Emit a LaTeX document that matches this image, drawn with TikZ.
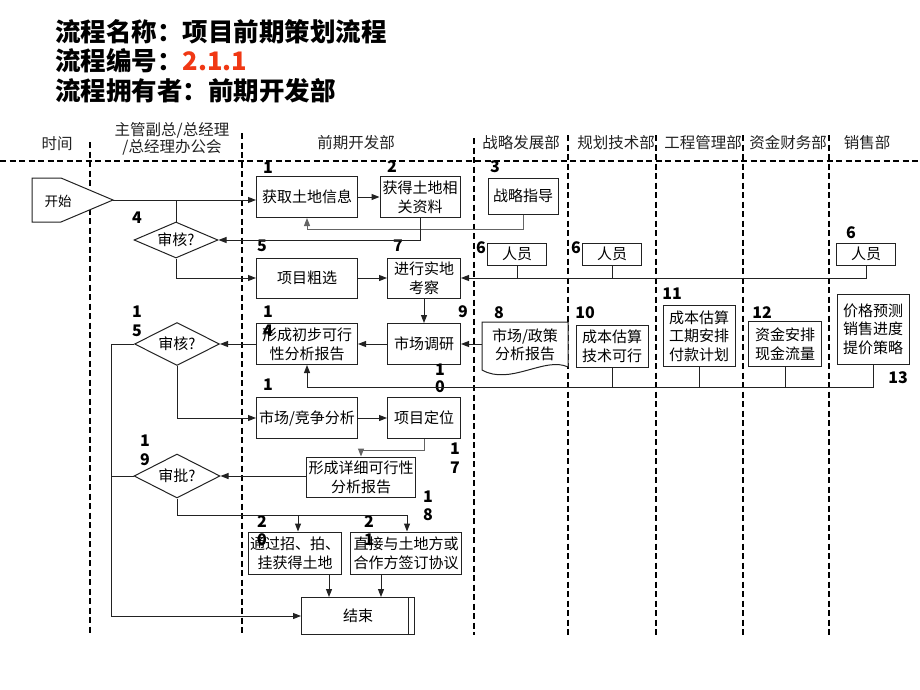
\documentclass[tikz,border=0pt]{standalone}
\usepackage{fontspec}
\setmainfont{Noto Sans CJK SC}
\usetikzlibrary{shapes.geometric,arrows.meta}
\definecolor{numred}{RGB}{240,56,20}
\definecolor{ink}{RGB}{34,34,34}

\begin{document}
\begin{tikzpicture}[x=1pt,y=-1pt,
    box/.style={draw=ink, line width=1pt, fill=white, align=center, inner sep=1pt,
      font=\fontsize{15pt}{19pt}\selectfont},
    choice/.style={diamond, draw=ink, line width=1pt, fill=white, aspect=2, inner sep=0pt,
      font=\fontsize{15pt}{19pt}\selectfont},
    num/.style={font=\bfseries\fontsize{16pt}{16pt}\selectfont, inner sep=0pt},
    lane/.style={black, line width=1.1pt, dash pattern=on 6pt off 3.5pt},
    head/.style={text=ink, align=center, font=\fontsize{15.5pt}{17pt}\selectfont},
    link/.style={draw=ink, line width=1pt},
    arr/.style={link, -{Triangle[length=8pt,width=6pt]}}]
  \useasboundingbox (0,0) rectangle (920,690);

  % Title
  \node[anchor=west, inner sep=0pt, font=\bfseries\fontsize{25.5pt}{26pt}\selectfont] (title1) at (55,32) {流程名称：项目前期策划流程};
  \node[anchor=west, inner sep=0pt, font=\bfseries\fontsize{25.5pt}{26pt}\selectfont] (title2) at (55,61) {流程编号：\textcolor{numred}{2.1.1}};
  \node[anchor=west, inner sep=0pt, font=\bfseries\fontsize{25.5pt}{26pt}\selectfont] (title3) at (55,91) {流程拥有者：前期开发部};

  % Lanes
  \draw[lane] (0,161) -- (920,161);
  \foreach \x/\y in {90/142, 242/133, 474/138, 568/135, 656/135, 743/135, 829/135}
    \draw[lane] (\x,\y) -- (\x,635);
  \node[head] (h0) at (57,144) {时间};
  \node[head] (h1) at (172,139) {主管副总/总经理\\/总经理办公会};
  \node[head] (h2) at (356,143) {前期开发部};
  \node[head] (h3) at (521,143) {战略发展部};
  \node[head] (h4) at (616,143) {规划技术部};
  \node[head] (h5) at (703,143) {工程管理部};
  \node[head] (h6) at (788,143) {资金财务部};
  \node[head] (h7) at (867,143) {销售部};

  % Start
  \draw[link, fill=white] (32,178) -- (61,178) -- (113,200) -- (61,222) -- (32,222) -- cycle;
  \node[font=\fontsize{13.5pt}{16pt}\selectfont] (start) at (58,201) {开始};
  \coordinate (starttip) at (113,200);

  % Steps
  \node[box, minimum width=101pt, minimum height=41pt] (b1) at (307,197) {获取土地信息};
  \node[box, minimum width=80pt, minimum height=41pt] (b2) at (420,197) {获得土地相\\关资料};
  \node[box, minimum width=70pt, minimum height=36pt] (b3) at (523,196) {战略指导};
  \node[choice, minimum width=84pt, minimum height=36pt] (d4) at (176,240) {审核?};
  \node[box, minimum width=101pt, minimum height=40pt] (b5) at (307,278) {项目粗选};
  \node[box, minimum width=59pt, minimum height=22pt] (p6a) at (517,254) {人员};
  \node[box, minimum width=59pt, minimum height=22pt] (p6b) at (612,254) {人员};
  \node[box, minimum width=59pt, minimum height=22pt] (p6c) at (866,254) {人员};
  \node[box, minimum width=73pt, minimum height=40pt] (b7) at (424,278) {进行实地\\考察};
  \draw[link, fill=white] (482,322) -- (568,322) -- (568,367) .. controls (545,356) and (510,386) .. (482,370) -- cycle;
  \node[align=center, minimum width=86pt, minimum height=45pt, font=\fontsize{15pt}{18pt}\selectfont] (b8) at (525,345) {市场/政策\\分析报告};
  \node[box, minimum width=73pt, minimum height=41pt] (b9) at (424,344) {市场调研};
  \node[box, minimum width=72pt, minimum height=42pt] (b10) at (612,346) {成本估算\\技术可行};
  \node[box, minimum width=72pt, minimum height=61pt, font=\fontsize{15pt}{18.5pt}\selectfont] (b11) at (699,336) {成本估算\\工期安排\\付款计划};
  \node[box, minimum width=73pt, minimum height=45pt] (b12) at (785,344) {资金安排\\现金流量};
  \node[box, minimum width=72pt, minimum height=70pt, font=\fontsize{15pt}{18.5pt}\selectfont] (b13) at (873,329) {价格预测\\销售进度\\提价策略};
  \node[box, minimum width=101pt, minimum height=41pt, fill=none] (b14) at (307,344) {形成初步可行\\性分析报告};
  \node[choice, minimum width=85pt, minimum height=43pt] (d15) at (177,344) {审核?};
  \node[box, minimum width=101pt, minimum height=41pt] (b16) at (307,418) {市场/竞争分析};
  \node[box, minimum width=73pt, minimum height=41pt] (b17) at (424,418) {项目定位};
  \node[box, minimum width=109pt, minimum height=40pt] (b18) at (361,477) {形成详细可行性\\分析报告};
  \node[choice, minimum width=86pt, minimum height=44pt] (d19) at (177,476) {审批?};
  \node[box, minimum width=93pt, minimum height=42pt, fill=none] (b20) at (295,553) {通过招、拍、\\挂获得土地};
  \node[box, minimum width=111pt, minimum height=42pt, fill=none] (b21) at (406,553) {直接与土地方或\\合作方签订协议};
  \node[box, minimum width=113pt, minimum height=37pt] (finish) at (358,616) {结束};
  \draw[link] ([xshift=-7pt]finish.north east) -- ([xshift=-7pt]finish.south east);

  % Step numbers
  \node[num] (n1) at (268,168) {1};
  \node[num] (n2) at (392,167) {2};
  \node[num] (n3) at (495,167) {3};
  \node[num] (n4) at (137,218) {4};
  \node[num] (n5) at (262,246) {5};
  \node[num] (n7) at (398,246) {7};
  \node[num] (n6a) at (481,248) {6};
  \node[num] (n6b) at (576,248) {6};
  \node[num] (n6c) at (851,233) {6};
  \node[num] (n8) at (499,313) {8};
  \node[num] (n9) at (463,312) {9};
  \node[num] (n14) at (268,312) {1};
  \node[num] (n14b) at (268,331) {4};
  \node[num] (n15) at (137,312) {1};
  \node[num] (n15b) at (137,331) {5};
  \node[num] (n10) at (440,370) {1};
  \node[num] (n10b) at (440,387) {0};
  \node[num] (n10c) at (585,313) {10};
  \node[num] (n11) at (672,294) {11};
  \node[num] (n12) at (762,313) {12};
  \node[num] (n13) at (898,378) {13};
  \node[num] (n16) at (268,385) {1};
  \node[num] (n17) at (455,449) {1};
  \node[num] (n17b) at (455,468) {7};
  \node[num] (n19) at (145,441) {1};
  \node[num] (n19b) at (145,460) {9};
  \node[num] (n18) at (428,497) {1};
  \node[num] (n18b) at (428,515) {8};
  \node[num] (n20) at (262,522) {2};
  \node[num] (n20b) at (262,540) {0};
  \node[num] (n21) at (369,522) {2};
  \node[num] (n21b) at (369,540) {1};

  % Connectors
  \draw[arr] (starttip) -- (starttip -| b1.west);
  \draw[link] (d4.north) -- (d4.north |- starttip);
  \draw[arr] (b1) -- (b2);
  \draw[arr, draw=ink!70] (b3.south) -- ++(0,15) -| (b1.south);
  \draw[arr] (b2.south) |- (d4.east);
  \draw[arr] (d4.south) |- (b5.west);
  \draw[arr] (b5) -- (b7);
  \draw[arr] (p6c.south) |- (b7.east);
  \draw[link] (p6a.south) -- (p6a.south |- b7.east);
  \draw[link] (p6b.south) -- (p6b.south |- b7.east);
  \draw[arr] (b7) -- (b9);
  \draw[arr] (b8.west |- b9) -- (b9.east);
  \draw[arr] (b9) -- (b14);
  \draw[arr] (b14) -- (d15);
  \coordinate (bus) at (873,387);
  \draw[arr] (b13.south) -- (b13.south |- bus) -| (b14.south);
  \foreach \b in {b10, b11, b12}
    \draw[link] (\b.south) -- (\b.south |- bus);
  \draw[arr] (d15.south) |- (b16.west);
  \draw[arr] (b16) -- (b17);
  \draw[arr, draw=ink!70] (b17.south) -- ++(0,11) -| (b18.north);
  \draw[arr] (b18.west |- d19) -- (d19.east);
  \coordinate (j19) at (177,515);
  \coordinate (in20) at ([xshift=3pt]b20.north);
  \coordinate (in21) at ([xshift=1pt]b21.north);
  \coordinate (out20) at ([xshift=34pt]b20.south);
  \coordinate (out21) at ([xshift=-25pt]b21.south);
  \draw[arr] (d19.south) -- (j19) -| (in21);
  \draw[arr] (j19 -| in20) -- (in20);
  \draw[arr] (out20) -- (out20 |- finish.north);
  \draw[arr] (out21) -- (out21 |- finish.north);
  \draw[arr] (d15.west) -- ++(-23,0) |- (finish.west);
  \draw[link] (d19.west) -- ++(-22,0);
\end{tikzpicture}
\end{document}
